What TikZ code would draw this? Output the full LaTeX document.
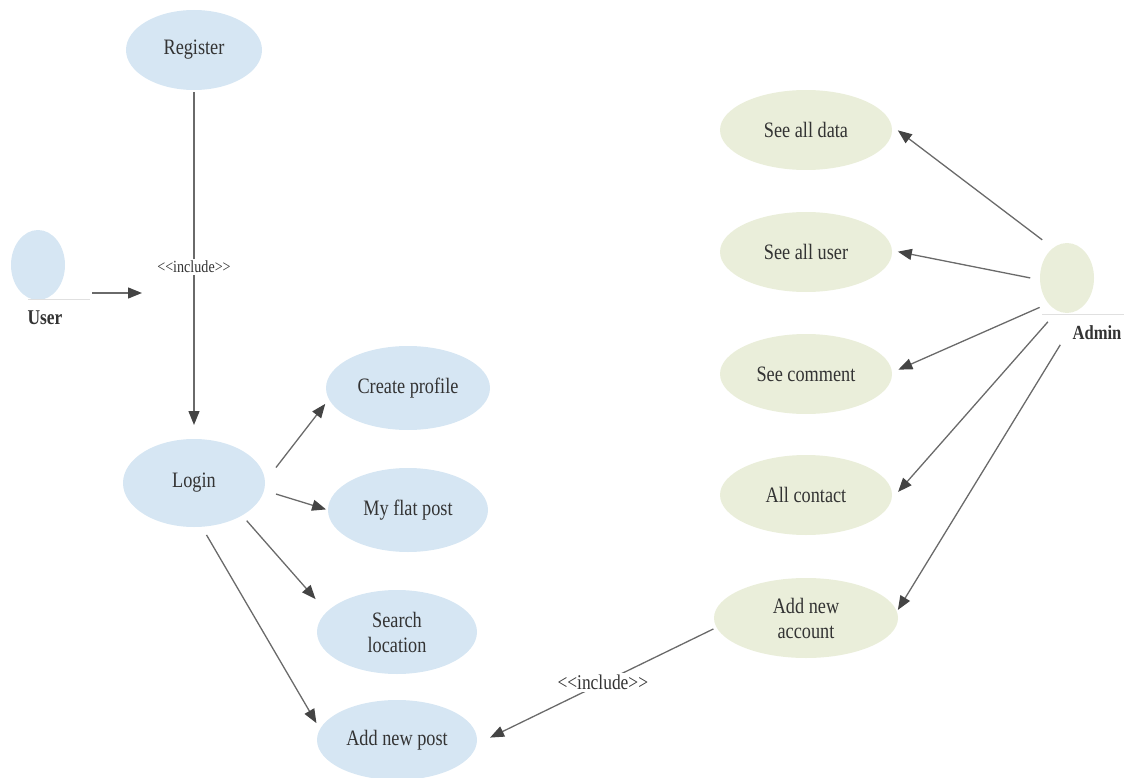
\documentclass[tikz,border=0pt]{standalone}
\usepackage{fontspec}
\setmainfont{Liberation Serif}[FakeStretch=0.83]
\usetikzlibrary{shapes.geometric,arrows.meta}
\definecolor{ublue}{HTML}{D6E6F3}
\definecolor{agreen}{HTML}{EAEEDA}
\definecolor{linegray}{HTML}{6A6A6A}
\definecolor{tipgray}{HTML}{444444}
\definecolor{txt}{HTML}{333333}
\tikzset{
  uc/.style={ellipse, draw=none, inner sep=0pt, outer sep=0pt, align=center,
    text=txt, font=\fontsize{22}{25}\selectfont},
  ucb/.style={uc, fill=ublue},
  ucg/.style={uc, fill=agreen},
  arr/.style={draw=linegray, line width=1.3pt,
    -{Triangle[length=14pt,width=11pt,fill=tipgray,color=tipgray]}},
  inc/.style={fill=white, text=txt, inner sep=2pt},
  actorlbl/.style={text=txt, font=\bfseries\fontsize{21}{24}\selectfont},
  faint/.style={draw=black!12, line width=1pt}
}
\begin{document}
\begin{tikzpicture}[x=1pt,y=-1pt]
\useasboundingbox (0,0) rectangle (1124,778);
% actors
\node[ucb, minimum width=54pt, minimum height=70pt] (user) at (38,265) {};
\node[actorlbl] (userlbl) at (45,318) {User};
\node[ucg, minimum width=54pt, minimum height=70pt] (admin) at (1067,278) {};
\node[actorlbl, font=\bfseries\fontsize{20}{22}\selectfont] (adminlbl) at (1097,333) {Admin};
\coordinate (ufa) at (28,299);
\coordinate (ufb) at (90,299);
\draw[faint] (ufa) -- (ufb);
\coordinate (afa) at (1042,314);
\coordinate (afb) at (1124,314);
\draw[faint] (afa) -- (afb);
% user use cases
\node[ucb, minimum width=136pt, minimum height=80pt] (register) at (194,50) {Register};
\node[ucb, minimum width=142pt, minimum height=88pt] (login) at (194,483) {Login};
\node[ucb, minimum width=164pt, minimum height=84pt] (create) at (408,388) {Create profile};
\node[ucb, minimum width=160pt, minimum height=84pt] (myflat) at (408,510) {My flat post};
\node[ucb, minimum width=160pt, minimum height=84pt] (search) at (397,632) {Search\\location};
\node[ucb, minimum width=160pt, minimum height=80pt] (addpost) at (397,740) {Add new post};
% admin use cases
\node[ucg, minimum width=172pt, minimum height=80pt] (seedata) at (806,130) {See all data};
\node[ucg, minimum width=172pt, minimum height=80pt] (seeuser) at (806,252) {See all user};
\node[ucg, minimum width=172pt, minimum height=80pt] (seecomment) at (806,374) {See comment};
\node[ucg, minimum width=172pt, minimum height=80pt] (allcontact) at (806,495) {All contact};
\node[ucg, minimum width=184pt, minimum height=80pt] (addacc) at (806,618) {Add new\\account};
% connectors
\draw[arr, shorten <=2pt, shorten >=14pt] (register.south) -- node[inc, pos=0.507, font=\fontsize{17}{19}\selectfont] (inc1) {<{}<include>{}>} (login.north);
\coordinate (uend) at (142,293);
\draw[arr, shorten <=27pt] (user.east |- uend) -- (uend);
\draw[arr, shorten <=18pt, shorten >=6pt] (login.1) -- (create.188);
\draw[arr, shorten <=12.5pt, shorten >=2pt] (login.-6) -- (myflat.180);
\draw[arr, shorten <=7pt, shorten >=17pt] (login.-34.7) -- (search.164.6);
\draw[arr, shorten <=9.5pt, shorten >=7pt] (login.-80.8) -- (addpost.172.6);
\draw[arr, shorten <=13.6pt, shorten >=8pt] (admin.115.6) -- (seedata.3.3);
\draw[arr, shorten <=10pt, shorten >=6pt] (admin.184) -- (seeuser.1);
\draw[arr, shorten <=9.7pt, shorten >=7pt] (admin.234.9) -- (seecomment.1.9);
\draw[arr, shorten <=14.6pt, shorten >=10pt] (admin.254.3) -- (allcontact.-3);
\draw[arr, shorten <=49pt, shorten >=2pt] (admin.-53.6) -- (addacc.4);
\draw[arr, shorten <=3.5pt, shorten >=15pt] (addacc.186.7) -- node[inc, pos=0.474, font=\fontsize{21}{24}\selectfont] (inc2) {<{}<include>{}>} (addpost.-3.2);
\end{tikzpicture}
\end{document}
